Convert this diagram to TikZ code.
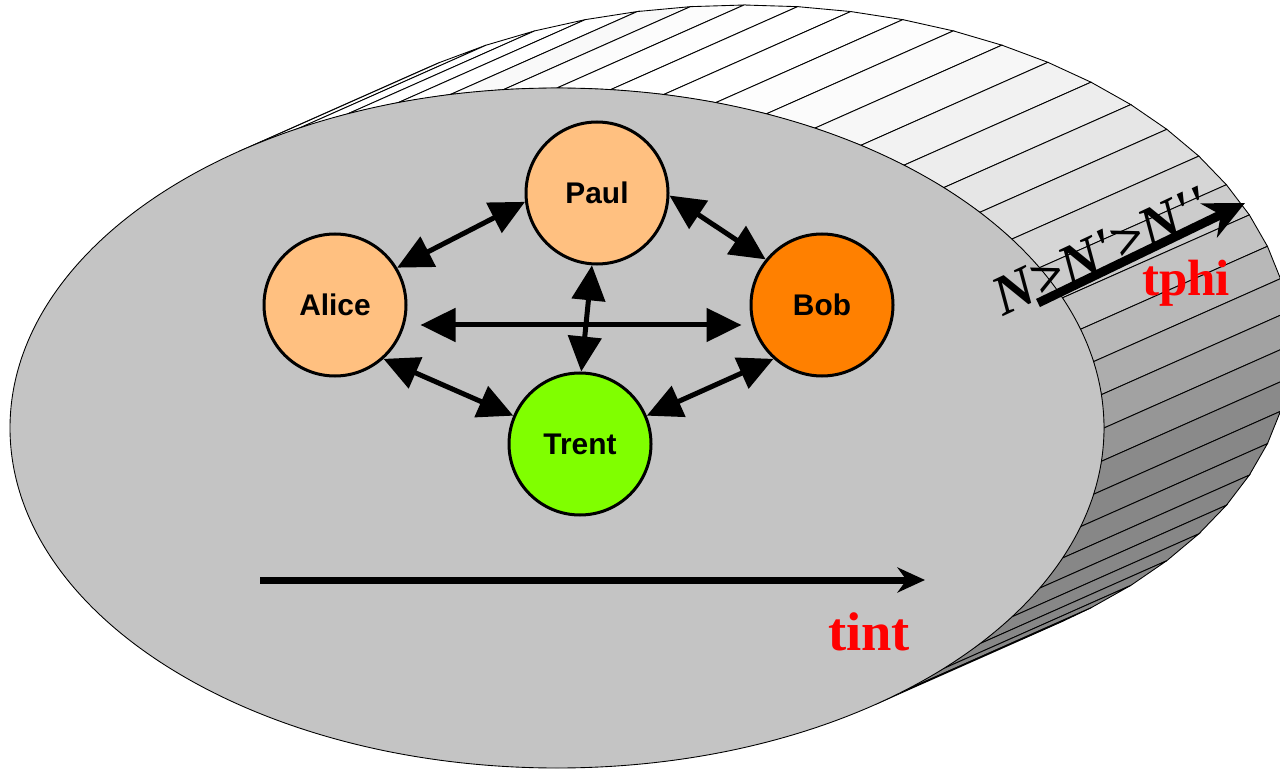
\documentclass[tikz,border=0pt]{standalone}
\usepackage{fontspec}
\setmainfont{Liberation Serif}
\setsansfont{Liberation Sans}
\usepackage{tikz}
\usetikzlibrary{positioning, arrows.meta}
\definecolor{facegray}{RGB}{196,196,196}
\definecolor{peach}{RGB}{255,192,128}
\definecolor{bobor}{RGB}{255,128,0}
\definecolor{trgreen}{RGB}{128,255,0}

\begin{document}
\begin{tikzpicture}[x=0.2mm, y=-0.2mm,
    facet/.style={draw=black, line width=0.5pt},
    face/.style={draw=black, line width=0.5pt, fill=facegray},
    p/.style={circle, draw=black, line width=0.6mm, minimum size=28.4mm, inner sep=0pt,
              font=\sffamily\bfseries\fontsize{17}{17}\selectfont},
    link/.style={{Triangle[length=7mm,width=6.6mm]}-{Triangle[length=7mm,width=6.6mm]}, line width=1mm},
    axis/.style={-{Stealth[length=5.5mm,width=5mm]}, line width=1.4mm},
    lbl/.style={text=red, inner sep=0pt, anchor=base}]
  \useasboundingbox (0,0) rectangle (1280,769);
  \clip (0,0) rectangle (1280,769);
  \coordinate (front) at (557,428);
  \coordinate (back) at (744,345);
  % side of the cylinder, one facet every 5.625 degrees
  \foreach \k in {-23,...,9}{
    \pgfmathsetmacro\ta{max(\k*5.625,-125.53)}
    \pgfmathsetmacro\tb{min((\k+1)*5.625,54.47)}
    \pgfmathsetmacro\tm{(\ta+\tb)/2}
    \pgfmathsetmacro\lum{\tm < -100 ? 100 : 53+47*max(0,-sin(\tm-10))}
    \filldraw[facet, fill=white!\lum!black]
      ([shift={(\ta:547 and 340)}]front) -- ([shift={(\tb:547 and 340)}]front)
      -- ([shift={(\tb:547 and 340)}]back) -- ([shift={(\ta:547 and 340)}]back) -- cycle;
  }
  \draw[face] (front) ellipse [x radius=547, y radius=340];

  \node[p, fill=peach]   (paul)  at (597,193) {Paul};
  \node[p, fill=peach]   (alice) at (335,305) {Alice};
  \node[p, fill=bobor]   (bob)   at (822,305) {Bob};
  \node[p, fill=trgreen] (trent) at (580,444) {Trent};

  \draw[link] (alice.31) -- (paul.187);
  \draw[link] (paul.-2) -- (bob.141);
  \draw[link, shorten <=2.6mm, shorten >=1.6mm] ([yshift=-4mm]alice.east) -- ([yshift=-4mm]bob.west);
  \draw[link] (paul.266) -- (trent.89);
  \draw[link] (alice.-48) -- (trent.157);
  \draw[link] (trent.23) -- (bob.228);

  % time axes
  \coordinate (t0) at (260,580);
  \coordinate (t1) at (925,580);
  \draw[axis] (t0) -- (t1);
  \node[lbl, font=\bfseries\fontsize{31}{31}\selectfont] (tint) at (869,650) {tint};

  \coordinate (p0) at (1038,303);
  \coordinate (p1) at (1245,203);
  \node[rotate=25, anchor=base west, inner sep=0pt, font=\bfseries\itshape\fontsize{32}{32}\selectfont] (order) at (1003,317)
    {N>N\textquotesingle>N\textquotesingle\textquotesingle};
  \draw[axis, line width=1.8mm, -{Stealth[length=8mm,width=7.5mm]}] (p0) -- (p1);
  \node[lbl, font=\bfseries\fontsize{29}{29}\selectfont] (tphi) at (1186,295) {tphi};
\end{tikzpicture}
\end{document}
